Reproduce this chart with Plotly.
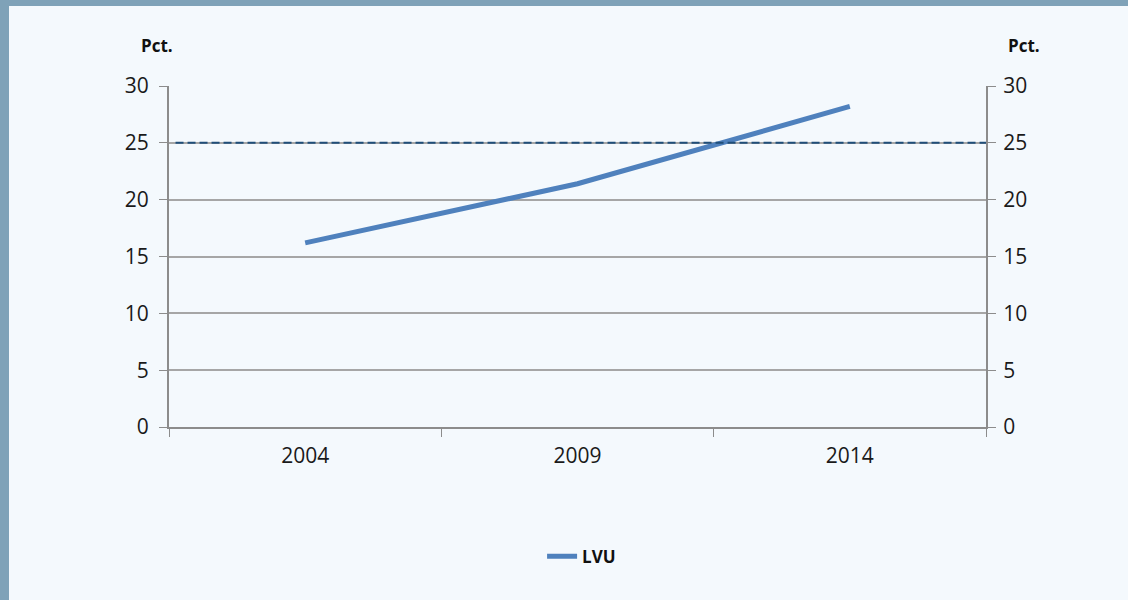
import plotly.graph_objects as go

years = ["2004", "2009", "2014"]
lvu = [16.2, 21.4, 28.2]
target = 25
y_ticks = [0, 5, 10, 15, 20, 25, 30]

FONT = "Open Sans"
BG = "#F4F9FD"
FRAME = "#7FA2B8"
GRID = "#A6A6A6"
AXIS = "#8C8C8C"

fig = go.Figure()
fig.add_trace(go.Scatter(
    x=years, y=lvu, mode="lines", name="<b>LVU</b>",
    line=dict(color="#4F81BD", width=5),
))
# invisible trace to activate right axis
fig.add_trace(go.Scatter(
    x=years, y=lvu, mode="lines", yaxis="y2", showlegend=False,
    line=dict(color="rgba(0,0,0,0)", width=0), hoverinfo="skip",
))

fig.add_shape(type="line", xref="paper", yref="y", x0=0.008, x1=1, y0=target, y1=target,
              line=dict(color="#1F4E79", width=2, dash="8px,4px"), layer="above")

# frame: left stripe and top band
fig.add_shape(type="rect", xref="paper", yref="paper", xsizemode="pixel", xanchor=0,
              x0=-175, x1=-160, y0=-1, y1=2, fillcolor=FRAME, line_width=0, layer="above")
fig.add_shape(type="rect", xref="paper", yref="paper", ysizemode="pixel", yanchor=1,
              x0=-1, x1=2, y0=80, y1=95, fillcolor=FRAME, line_width=0, layer="above")

for xp in (157, 1024):
    fig.add_annotation(text="<b>Pct.</b>", xref="paper", yref="paper",
                       x=(xp - 169) / 817, y=1 + (86 - 45) / 341, showarrow=False,
                       xanchor="center", yanchor="middle",
                       font=dict(family=FONT, size=17, color="#111111"))

axis_common = dict(
    range=[0, 30], tickvals=y_ticks, ticks="outside", ticklen=8, tickcolor=AXIS,
    showline=True, linecolor=AXIS, linewidth=2, zeroline=False,
    tickfont=dict(family=FONT, size=21, color="#1a1a1a"), fixedrange=True,
)

fig.update_layout(
    width=1128, height=600,
    margin=dict(l=169, r=142, t=86, b=173),
    paper_bgcolor=BG, plot_bgcolor=BG,
    showlegend=True,
    legend=dict(orientation="h", x=0.505, xanchor="center", y=-0.38, yanchor="middle",
                font=dict(family=FONT, size=17, color="#111111"), bgcolor="rgba(0,0,0,0)"),
    xaxis=dict(type="category", range=[-0.5, 2.5], tickson="boundaries", ticks="outside",
               ticklen=8, tickcolor=AXIS, showline=True, linecolor=AXIS, linewidth=2,
               showgrid=False, ticklabelstandoff=9,
               tickfont=dict(family=FONT, size=21, color="#1a1a1a")),
    yaxis=dict(**axis_common, showgrid=True, gridcolor=GRID, gridwidth=1.5, ticklabelstandoff=6),
    yaxis2=dict(**axis_common, overlaying="y", side="right", showgrid=False, ticklabelstandoff=3),
)

fig.write_html("out.html", config={"displayModeBar": False},
               post_script="document.body.style.margin='0';document.body.style.overflow='hidden';")
